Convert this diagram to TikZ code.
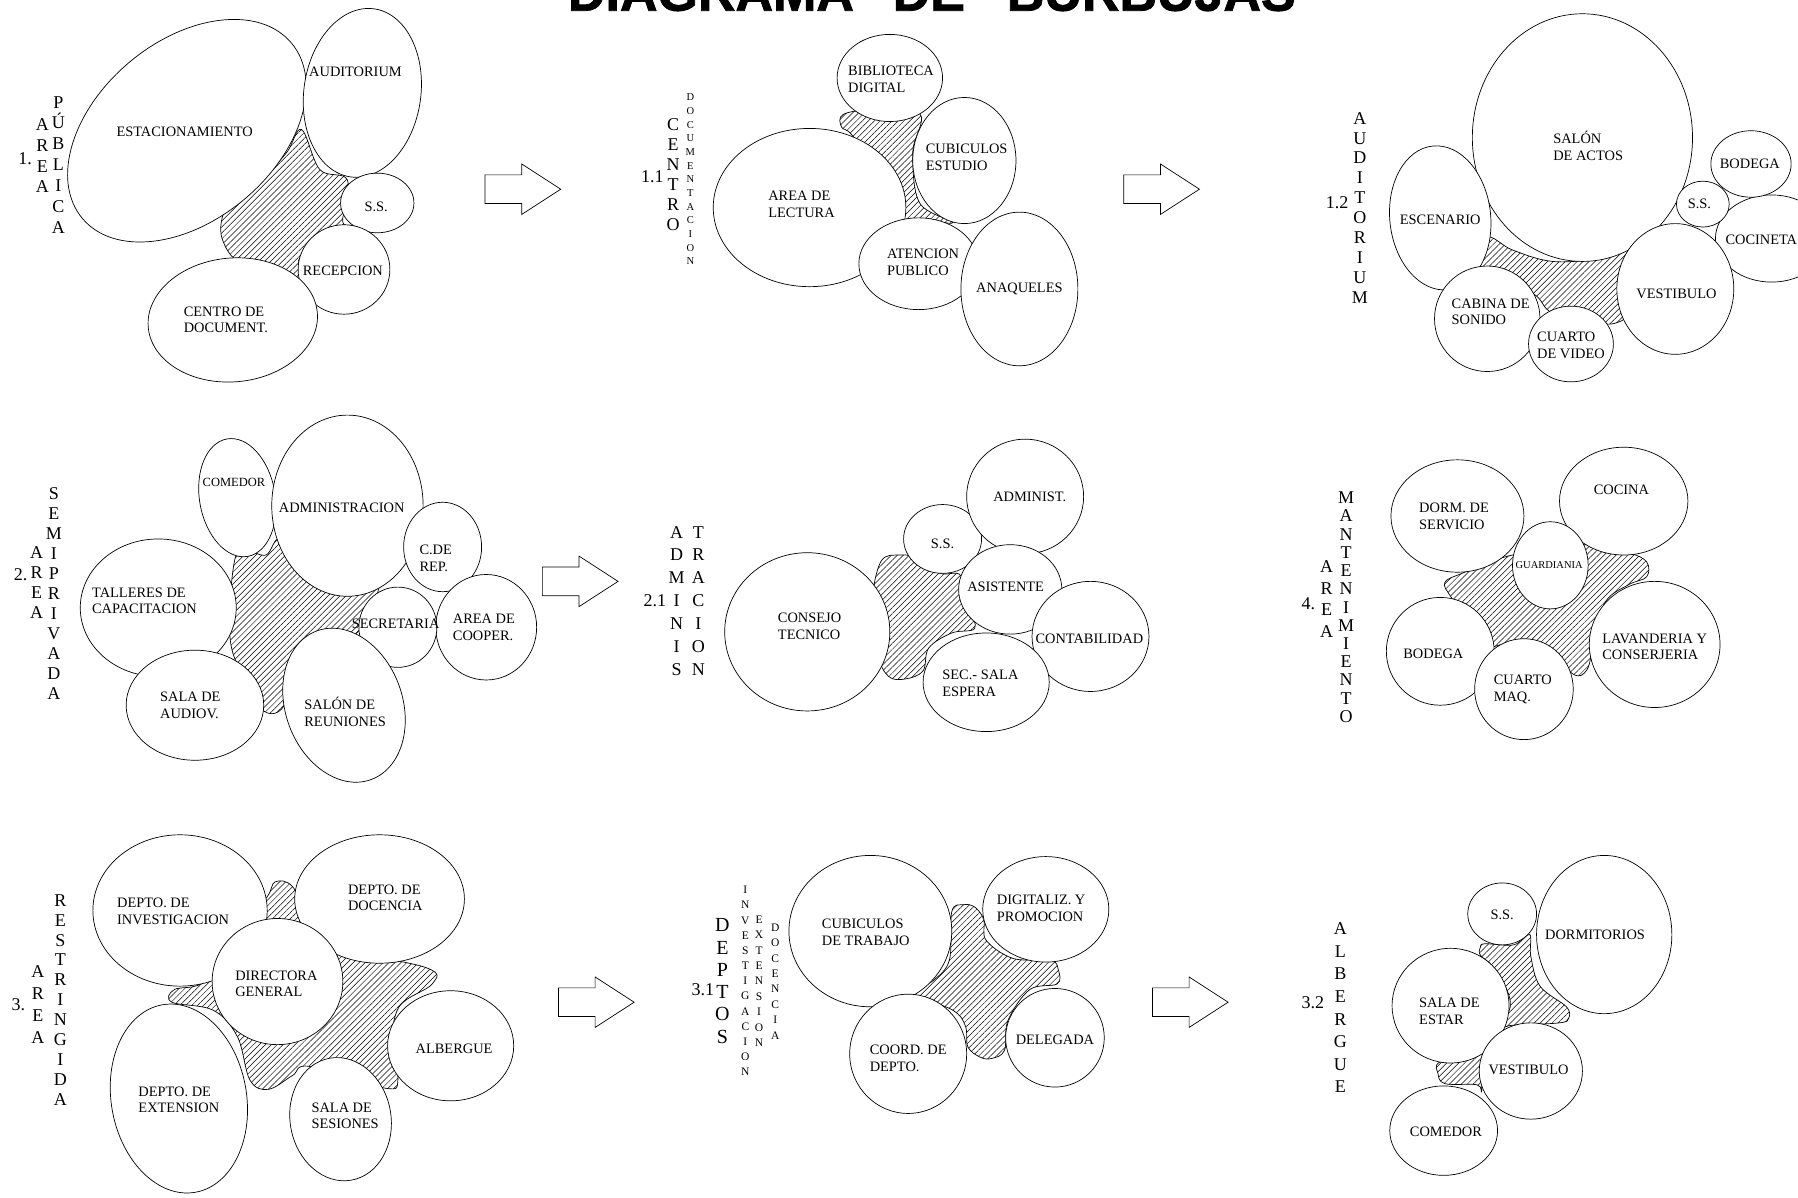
\documentclass[tikz,border=0pt]{standalone}
\usepackage{fontspec}
\setmainfont{Liberation Serif}
\newfontfamily\titulofont[FakeBold=1.5]{Liberation Sans Bold}
\usetikzlibrary{patterns.meta}

\begin{document}
\begin{tikzpicture}[
    x=1.1467pt, y=-1.1467pt,
    font=\fontsize{14.4}{16.7}\selectfont,
    burbuja/.style={draw, fill=white, line width=0.7pt},
    rayado/.style={draw, line width=0.7pt,
      pattern={Lines[angle=45,distance=4.2pt,line width=0.5pt]}},
    flecha/.style={draw, fill=white, line width=0.7pt},
    rotulo/.style={align=left, inner sep=0pt},
    letra/.style={inner sep=0pt, font=\fontsize{18}{18}\selectfont,
      text height=11.9pt, text depth=0pt},
    letragrande/.style={inner sep=0pt, font=\fontsize{20}{20}\selectfont,
      text height=13.2pt, text depth=0pt},
    letrita/.style={inner sep=0pt, font=\fontsize{10.5}{10.5}\selectfont,
      text height=6.9pt, text depth=0pt},
    letramedia/.style={inner sep=0pt, font=\fontsize{11.5}{11.5}\selectfont,
      text height=7.6pt, text depth=0pt},
  ]

  % burbujas: centro x / centro y / radio x / radio y / giro
  \def\burbujas#1{\foreach \x/\y/\a/\b/\r in {#1}
    \draw[burbuja, rotate around={\r:(\x,\y)}] (\x,\y) ellipse [x radius=\a, y radius=\b];}

  \useasboundingbox (0,0) rectangle (1568,1044);
  \clip (0,0) rectangle (1568,1044);

  % ---- titulo (cortado arriba) ---------------------------------------------
  \node[anchor=base, inner sep=0pt, font=\titulofont\fontsize{52}{52}\selectfont]
    (tit1) at (620,9.3) {DIAGRAMA};
  \node[anchor=base, inner sep=0pt, font=\titulofont\fontsize{52}{52}\selectfont]
    (tit2) at (810,9.3) {DE};
  \node[anchor=base, inner sep=0pt, font=\titulofont\fontsize{52}{52}\selectfont]
    (tit3) at (1004,9.3) {BURBUJAS};

  % ---- flechas entre los diagramas -----------------------------------------
  \foreach \x/\y in {423/165, 980/165, 473/507, 487/874, 1005/874}
    \draw[flecha] ({\x},{\y-12.5}) -- ++(32,0) -- ++(0,-9.5) -- ++(34,22)
      -- ++(-34,22) -- ++(0,-9.5) -- ++(-32,0) -- cycle;

  % ---- 1. area publica -----------------------------------------------------
  \draw[rayado] plot[smooth cycle, tension=0.6] coordinates {(263,113) (279,148)
    (303,157) (299,194) (311,198) (262,224) (269,247) (247,240) (209,229)
    (194,209) (194,189) (203,174) (227,157) (250,133)};
  \burbujas{163/114/119/78/40, 316/81/51/74/-8, 329/177/32/26/0,
    300/235/40/39/0, 203/279/74/54/5}
  \node[rotulo] (estac) at (161,115) {ESTACIONAMIENTO};
  \node[rotulo] (audit) at (310,63) {AUDITORIUM};
  \node[rotulo] (ss1) at (328,180) {S.S.};
  \node[rotulo] (recep) at (299,236) {RECEPCION};
  \node[rotulo] (cdoc) at (197,279) {CENTRO DE\\DOCUMENT.};
  \node[letra] (num1) at (22,138) {1.};
  \foreach \c [count=\k from 0] in {A,R,E,A}
    \node[letra] (ar1\k) at (37,{109+18*\k}) {\c};
  \foreach \c [count=\k from 0] in {P,Ú,B,L,I,C,A}
    \node[letra] (pu1\k) at (51,{89+18.3*\k}) {\c};

  % ---- 1.1 centro de documentacion -----------------------------------------
  \draw[rayado] plot[smooth cycle, tension=0.6] coordinates {(735,100) (759,96)
    (802,99) (796,133) (802,177) (831,194) (802,192) (785,198) (774,163)
    (744,119) (734,111)};
  \burbujas{706/181/84/69/0, 801/230/52/40/0, 889/252/51/67/0,
    841/140/45/55/0, 776/68/46/38/0}
  \node[rotulo] (bibl) at (777,69) {BIBLIOTECA\\DIGITAL};
  \node[rotulo] (cubi) at (843,137) {CUBICULOS\\ESTUDIO};
  \node[rotulo] (lect) at (699,178) {AREA DE\\LECTURA};
  \node[rotulo] (aten) at (805,229) {ATENCION\\PUBLICO};
  \node[rotulo] (anaq) at (889,252) {ANAQUELES};
  \node[letra] (num11) at (569,154) {1.1};
  \foreach \c [count=\k from 0] in {C,E,N,T,R,O}
    \node[letra] (ce11\k) at (587,{109+17.4*\k}) {\c};
  \foreach \c [count=\k from 0] in {D,O,C,U,M,E,N,T,A,C,I,O,N}
    \node[letrita] (do11\k) at (602,{85+11.9*\k}) {\c};

  % ---- 1.2 auditorium ------------------------------------------------------
  \draw[rayado] plot[smooth cycle, tension=0.6] coordinates {(1297,207)
    (1319,218) (1354,228) (1395,225) (1422,214) (1413,238) (1417,273)
    (1411,281) (1395,282) (1354,273) (1337,256) (1297,238) (1291,234)};
  \burbujas{1380/120/96/108/0, 1256/190/44/63/6, 1297/278/46/46/0,
    1370/300/37/33/0, 1545/208/49/38/0, 1461/252/51/57/0,
    1527/143/35/29/0, 1485/178/23/20/0}
  \node[rotulo] (salon) at (1385,127) {SALÓN\\DE ACTOS};
  \node[rotulo] (esce) at (1256,192) {ESCENARIO};
  \node[rotulo] (cabi) at (1300,272) {CABINA DE\\SONIDO};
  \node[rotulo] (vide) at (1370,301) {CUARTO\\DE VIDEO};
  \node[rotulo] (vest12) at (1462,256) {VESTIBULO};
  \node[rotulo] (ss12) at (1482,178) {S.S.};
  \node[rotulo] (bode12) at (1526,143) {BODEGA};
  \node[rotulo] (coci12) at (1536,209) {COCINETA};
  \node[letra] (num12) at (1166,177) {1.2};
  \foreach \c [count=\k from 0] in {A,U,D,I,T,O,R,I,U,M}
    \node[letra] (au12\k) at (1186,{103+17.4*\k}) {\c};

  % ---- 2. area semiprivada -------------------------------------------------
  \draw[rayado] plot[smooth cycle, tension=0.6] coordinates {(205,487) (215,480)
    (232,484) (245,470) (270,500) (300,510) (330,505) (320,540) (300,560)
    (275,560) (255,575) (250,610) (240,622) (228,618) (225,600) (205,575)
    (200,540)};
  \burbujas{138/530/68/60/0, 207/434/33/52/10, 303/441/66/79/0,
    386/477/34/39/0, 424/547/44/46/0, 347/547/34/35/0,
    300/615/51/69/20, 170/615/60/48/0}
  \node[rotulo, font=\fontsize{12.5}{14}\selectfont] (come2) at (204,421) {COMEDOR};
  \node[rotulo] (admi) at (298,443) {ADMINISTRACION};
  \node[rotulo] (crep) at (380,487) {C.DE\\REP.};
  \node[rotulo] (coop) at (422,547) {AREA DE\\COOPER.};
  \node[rotulo] (secr) at (345,544) {SECRETARIA};
  \node[rotulo] (reun) at (301,621) {SALÓN DE\\REUNIONES};
  \node[rotulo] (audi) at (166,615) {SALA DE\\AUDIOV.};
  \node[rotulo] (tall) at (126,524) {TALLERES DE\\CAPACITACION};
  \node[letra] (num2) at (18,501) {2.};
  \foreach \c [count=\k from 0] in {A,R,E,A}
    \node[letra] (ar2\k) at (32,{482+17.5*\k}) {\c};
  \foreach \c [count=\k from 0] in {S,E,M,I,P,R,I,V,A,D,A}
    \node[letra] (se2\k) at (47,{430+17.5*\k}) {\c};

  % ---- 2.1 administracion --------------------------------------------------
  \draw[rayado] plot[smooth cycle, tension=0.6] coordinates {(768,490) (785,484)
    (800,487) (820,500) (838,502) (845,530) (850,548) (830,552) (810,565)
    (805,585) (790,592) (775,590) (765,570) (760,530)};
  \burbujas{704/551/72/69/0, 822/470/34/30/0, 894/433/51/50/0,
    881/514/45/39/0, 951/555/51/48/0, 860/595/55/43/0}
  \node[rotulo] (cons) at (706,546) {CONSEJO\\TECNICO};
  \node[rotulo] (ss21) at (822,474) {S.S.};
  \node[rotulo] (admn) at (898,433) {ADMINIST.};
  \node[rotulo] (asis) at (877,512) {ASISTENTE};
  \node[rotulo] (cont) at (950,557) {CONTABILIDAD};
  \node[rotulo] (espe) at (855,596) {SEC.- SALA\\ESPERA};
  \node[letra] (num21) at (571,524) {2.1};
  \foreach \c [count=\k from 0] in {A,D,M,I,N,I,S}
    \node[letra] (ad21\k) at (590,{464+20*\k}) {\c};
  \foreach \c [count=\k from 0] in {T,R,A,C,I,O,N}
    \node[letra] (tr21\k) at (609,{464+20*\k}) {\c};

  % ---- 4. area de mantenimiento --------------------------------------------
  \draw[rayado] plot[smooth cycle, tension=0.6] coordinates {(1260,508)
    (1275,500) (1319,484) (1384,475) (1420,482) (1436,490) (1436,503)
    (1420,510) (1400,525) (1390,560) (1384,584) (1372,588) (1350,565)
    (1320,560) (1293,564) (1280,540) (1265,520)};
  \burbujas{1271/450/58/49/0, 1416/437/56/47/0, 1256/568/47/47/0,
    1443/562/57/55/0, 1329/601/43/44/0, 1352/493/33/38/0}
  \node[rotulo] (dorm4) at (1268,450) {DORM. DE\\SERVICIO};
  \node[rotulo] (coci4) at (1414,427) {COCINA};
  \node[rotulo, font=\fontsize{10.5}{12}\selectfont] (guar) at (1351,493) {GUARDIANIA};
  \node[rotulo] (bode4) at (1250,570) {BODEGA};
  \node[rotulo] (maq) at (1328,601) {CUARTO\\MAQ.};
  \node[rotulo] (lava) at (1443,564) {LAVANDERIA Y\\CONSERJERIA};
  \node[letra] (num4) at (1141,526) {4.};
  \foreach \c [count=\k from 0] in {A,R,E,A}
    \node[letra] (ar4\k) at (1157,{494+19*\k}) {\c};
  \foreach \c [count=\k from 0] in {M,A,N,T,E,N,I,M,I,E,N,T,O}
    \node[letra] (ma4\k) at (1174,{434+15.9*\k}) {\c};

  % ---- 3. area restringida -------------------------------------------------
  \draw[rayado] plot[smooth cycle, tension=0.6] coordinates {(240,769) (255,773)
    (270,802) (294,826) (372,844) (377,858) (348,878) (342,913) (347,942)
    (336,949) (270,930) (255,938) (234,950) (218,942) (207,904) (186,881)
    (150,874) (152,863) (180,855) (210,811) (233,782)};
  \burbujas{157/794/76/66/0, 331/784/74/56/0, 242/856/57/55/0,
    156/958/59/83/10, 297/976/44/54/10, 393/912/55/48/0}
  \node[rotulo] (inve) at (151,795) {DEPTO. DE\\INVESTIGACION};
  \node[rotulo] (doce) at (336,783) {DEPTO. DE\\DOCENCIA};
  \node[rotulo] (dire) at (241,858) {DIRECTORA\\GENERAL};
  \node[rotulo] (exte) at (156,959) {DEPTO. DE\\EXTENSION};
  \node[rotulo] (sesi) at (301,973) {SALA DE\\SESIONES};
  \node[rotulo] (albe3) at (396,915) {ALBERGUE};
  \node[letra] (num3) at (16,876) {3.};
  \foreach \c [count=\k from 0] in {A,R,E,A}
    \node[letra] (ar3\k) at (33,{847+19.3*\k}) {\c};
  \foreach \c [count=\k from 0] in {R,E,S,T,R,I,N,G,I,D,A}
    \node[letra] (re3\k) at (52.6,{785+17.4*\k}) {\c};

  % ---- 3.1 deptos ----------------------------------------------------------
  \draw[rayado] plot[smooth cycle, tension=0.6] coordinates {(830,795) (840,789)
    (850,791) (858,802) (860,820) (884,836) (916,837) (923,846) (922,858)
    (898,863) (879,890) (876,916) (865,923) (855,922) (844,913) (842,895)
    (831,881) (796,866) (814,855) (828,837)};
  \burbujas{759/812/71/66/0, 912/793/55/46/0, 792/919/51/52/0,
    920/905/43/43/0}
  \node[rotulo] (trab) at (755,813) {CUBICULOS\\DE TRABAJO};
  \node[rotulo] (digi) at (908,792) {DIGITALIZ. Y\\PROMOCION};
  \node[rotulo] (coor) at (792,923) {COORD. DE\\DEPTO.};
  \node[rotulo] (dele) at (920,907) {DELEGADA};
  \node[letra] (num31) at (613,863) {3.1};
  \foreach \c [count=\k from 0] in {D,E,P,T,O,S}
    \node[letragrande] (de31\k) at (630,{807+19.4*\k}) {\c};
  \foreach \c [count=\k from 0] in {I,N,V,E,S,T,I,G,A,C,I,O,N}
    \node[letramedia] (in31\k) at (650,{776+13.25*\k}) {\c};
  \foreach \c [count=\k from 0] in {E,X,T,E,N,S,I,O,N}
    \node[letramedia] (ex31\k) at (662,{802+13.4*\k}) {\c};
  \foreach \c [count=\k from 0] in {D,O,C,E,N,C,I,A}
    \node[letramedia] (dc31\k) at (676,{809+13.4*\k}) {\c};

  % ---- 3.2 albergue --------------------------------------------------------
  \draw[rayado] plot[smooth cycle, tension=0.6] coordinates {(1291,826)
    (1295,823) (1320,824) (1334,815) (1335,834) (1343,860) (1366,878)
    (1368,888) (1360,892) (1320,894) (1310,895) (1317,878) (1314,863)
    (1302,843) (1291,833)};
  \draw[rayado] plot[smooth cycle, tension=0.6] coordinates {(1291,917)
    (1256,926) (1254,936) (1260,945) (1288,946) (1292,952) (1292,933)};
  \burbujas{1399/815/59/69/0, 1310/797/30/27/0, 1265/877/51/50/0,
    1259/986/47/39/0, 1335/934/45/42/0}
  \node[rotulo] (ss32) at (1310,798) {S.S.};
  \node[rotulo] (dorm32) at (1391,815) {DORMITORIOS};
  \node[rotulo] (esta) at (1264,882) {SALA DE\\ESTAR};
  \node[rotulo] (vest32) at (1333,933) {VESTIBULO};
  \node[rotulo] (come32) at (1261,987) {COMEDOR};
  \node[letra] (num32) at (1145,874) {3.2};
  \foreach \c [count=\k from 0] in {A,L,B,E,R,G,U,E}
    \node[letra] (al32\k) at (1169,{810+19.7*\k}) {\c};

\end{tikzpicture}
\end{document}
